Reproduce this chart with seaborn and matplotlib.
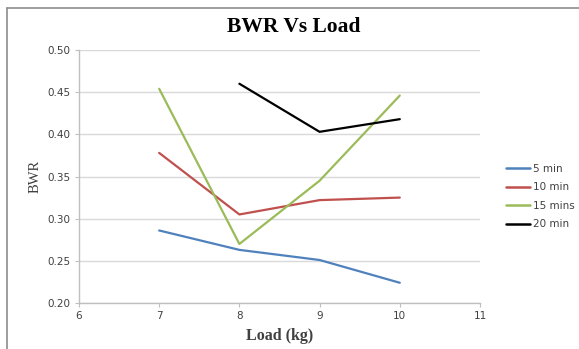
import matplotlib
matplotlib.use("Agg")
import matplotlib.pyplot as plt
from matplotlib.lines import Line2D
import seaborn as sns
import pandas as pd

loads = [7, 8, 9, 10]
bwr_5min = [0.286, 0.263, 0.251, 0.224]
bwr_10min = [0.378, 0.305, 0.322, 0.325]
bwr_15mins = [0.454, 0.270, 0.345, 0.446]
loads_20min = [8, 9, 10]
bwr_20min = [0.460, 0.403, 0.418]

series_names = ["5 min", "10 min", "15 mins", "20 min"]
colors = ["#4F81BD", "#C0504D", "#9BBB59", "#000000"]

rows = []
for name, xs, ys in [
    ("5 min", loads, bwr_5min),
    ("10 min", loads, bwr_10min),
    ("15 mins", loads, bwr_15mins),
    ("20 min", loads_20min, bwr_20min),
]:
    for x, y in zip(xs, ys):
        rows.append({"Load": x, "BWR": y, "Time": name})
df = pd.DataFrame(rows)

sns.set_style("white")
plt.rcParams["font.family"] = ["DejaVu Sans"]

fig = plt.figure(figsize=(5.79, 3.49), dpi=100)
fig.patch.set_edgecolor("none")
fig.patch.set_linewidth(0)
ax = fig.add_axes([0.1364, 0.1318, 0.8290 - 0.1364, 0.8567 - 0.1318])

sns.lineplot(data=df, x="Load", y="BWR", hue="Time", hue_order=series_names,
             palette=colors, linewidth=1.6, ax=ax, legend=False)

ax.set_xlim(6, 11)
ax.set_ylim(0.20, 0.50)
ax.set_xticks([6, 7, 8, 9, 10, 11])
ax.set_yticks([0.20, 0.25, 0.30, 0.35, 0.40, 0.45, 0.50])
ax.set_yticklabels([f"{v:.2f}" for v in [0.20, 0.25, 0.30, 0.35, 0.40, 0.45, 0.50]])
ax.yaxis.grid(True, color="#D9D9D9", linewidth=1.0)
ax.set_axisbelow(True)
for side in ["top", "right"]:
    ax.spines[side].set_visible(False)
for side in ["left", "bottom"]:
    ax.spines[side].set_color("#BFBFBF")
    ax.spines[side].set_linewidth(1.0)
ax.tick_params(axis="both", which="both", direction="out", length=3, width=0.8,
               color="#BFBFBF", labelsize=7.5, labelcolor="#404040", pad=3)
ax.tick_params(axis="y", left=True)
ax.tick_params(axis="x", bottom=True)

ax.set_xlabel("Load (kg)", family="Liberation Serif", fontsize=11.5,
              fontweight="bold", color="#404040", labelpad=5)
ax.set_ylabel("BWR", family="Liberation Serif", fontsize=10.5,
              color="#404040", labelpad=4)

fig.text(0.508, 0.922, "BWR Vs Load", family="Liberation Serif", fontsize=15.5,
         fontweight="bold", ha="center", va="center", color="#000000")

handles = [Line2D([], [], color=c, linewidth=1.8) for c in colors]
fig.legend(handles, series_names, loc="center left",
           bbox_to_anchor=(0.858, 0.437), frameon=False, fontsize=7.5,
           handlelength=2.3, handletextpad=0.3, labelspacing=0.82,
           labelcolor="#404040")

# outer chart frame: left and top edges, running off the canvas
frame_x = 6.5 / 579
frame_y = 1 - 8 / 349
fig.add_artist(Line2D([frame_x, frame_x], [-0.05, frame_y], transform=fig.transFigure,
                      color="#8C8C8C", linewidth=1.2))
fig.add_artist(Line2D([frame_x, 1.05], [frame_y, frame_y], transform=fig.transFigure,
                      color="#8C8C8C", linewidth=1.2))

fig.savefig("out.png", dpi=100)
